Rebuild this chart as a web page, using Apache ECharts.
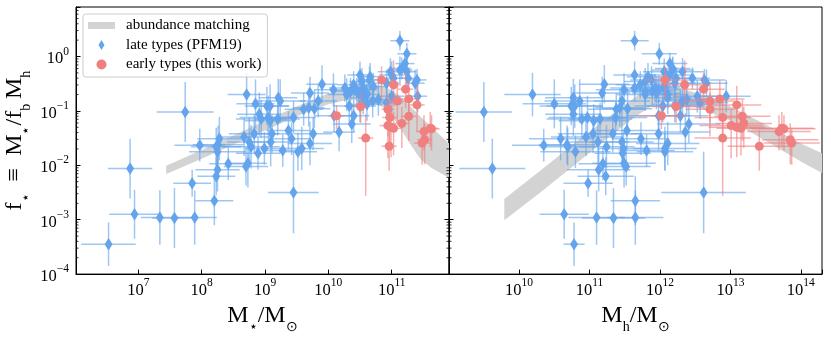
<!DOCTYPE html>
<html>
<head>
<meta charset="utf-8">
<script src="https://cdn.jsdelivr.net/npm/echarts@6/dist/echarts.min.js"></script>
<style>
  html, body { margin: 0; padding: 0; background: #fff; }
  #chart { width: 831px; height: 339px; }
</style>
</head>
<body>
<div id="chart"></div>
<script>
// all values are log10
// late types (PFM19)
var lateLogMstar = [6.53, 6.87, 6.94, 7.34, 7.57, 7.89, 7.85, 7.74, 7.97, 8.20,
  8.23, 8.25, 8.23, 8.25, 8.28, 8.26, 8.42, 8.71, 8.67, 8.75,
  8.78, 8.70, 8.73, 8.89, 8.83, 8.85, 8.91, 8.94, 8.99, 9.03,
  9.08, 9.08, 9.09, 9.11, 9.05, 9.20, 9.21, 9.24, 9.28, 9.37,
  9.42, 9.45, 9.45, 9.52, 9.58, 9.61, 9.69, 9.71, 9.71, 9.76,
  9.78, 9.84, 9.90, 10.08, 10.09, 10.17, 10.26, 10.29, 10.35, 10.33,
  10.37, 10.40, 10.40, 10.45, 10.48, 10.50, 10.50, 10.53, 10.55, 10.55,
  10.61, 10.61, 10.66, 10.71, 10.70, 10.79, 10.92, 10.92, 10.98, 11.00,
  11.00, 11.03, 11.13, 11.16, 11.13, 11.24, 11.21, 11.24, 11.26, 11.40,
  11.37, 11.41, 10.57, 10.65];
var lateLogFstar = [-3.45, -2.06, -2.90, -2.96, -2.97, -2.96, -2.33, -1.02, -1.63, -2.65,
  -2.20, -2.08, -1.66, -1.75, -1.51, -1.62, -1.97, -0.70, -1.48, -1.57,
  -1.66, -2.02, -1.96, -1.78, -1.42, -0.87, -1.06, -1.15, -1.69, -0.91,
  -0.91, -1.18, -1.57, -1.42, -1.12, -1.15, -0.76, -0.82, -1.73, -1.36,
  -1.51, -2.50, -1.12, -1.75, -1.69, -0.97, -0.94, -0.67, -1.60, -1.42,
  -0.96, -0.82, -0.51, -0.61, -1.09, -1.39, -0.58, -0.70, -0.64, -0.91,
  -1.24, -1.09, -0.52, -0.64, -0.67, -0.34, -0.91, -0.46, -0.58, -0.76,
  -0.70, -0.88, -0.37, -0.55, -0.82, -0.79, -0.49, -0.85, -0.28, -0.34,
  -0.73, -0.40, -0.25, -0.22, 0.29, 0.05, -0.13, -0.28, -0.40, -0.43,
  -0.49, -0.73, -0.61, -0.43];
var lateLogMhalo = [10.78, 9.62, 10.64, 11.10, 11.34, 11.65, 10.98, 9.50, 10.35, 11.65,
  11.23, 11.13, 10.69, 10.80, 10.59, 10.68, 11.19, 10.19, 10.95, 11.12,
  11.24, 11.52, 11.49, 11.47, 11.05, 10.50, 10.77, 10.89, 11.48, 10.74,
  10.79, 11.06, 11.46, 11.33, 10.97, 11.15, 10.77, 10.86, 11.81, 11.53,
  11.73, 12.62, 11.37, 12.07, 12.07, 11.38, 11.43, 11.18, 12.11, 11.98,
  11.54, 11.46, 11.21, 11.49, 11.98, 12.36, 11.64, 11.79, 11.79, 12.04,
  12.41, 12.29, 11.72, 11.89, 11.95, 11.64, 12.21, 11.79, 11.93, 12.11,
  12.11, 12.29, 11.83, 12.06, 12.32, 12.38, 12.21, 12.57, 12.06, 12.14,
  12.53, 12.23, 12.18, 12.18, 11.64, 11.99, 12.14, 12.32, 12.46, 12.63,
  12.66, 12.94, 11.98, 11.88];
var lateErrMstar = [0.43, 0.35, 0.40, 0.30, 0.35, 0.35, 0.30, 0.45, 0.40, 0.30,
  0.30, 0.35, 0.40, 0.45, 0.35, 0.40, 0.30, 0.30, 0.40, 0.35,
  0.45, 0.35, 0.30, 0.35, 0.40, 0.30, 0.35, 0.40, 0.30, 0.35,
  0.30, 0.40, 0.35, 0.30, 0.45, 0.35, 0.30, 0.40, 0.30, 0.35,
  0.30, 0.40, 0.35, 0.30, 0.35, 0.30, 0.25, 0.30, 0.35, 0.30,
  0.25, 0.30, 0.25, 0.30, 0.30, 0.25, 0.25, 0.30, 0.25, 0.25,
  0.30, 0.25, 0.25, 0.20, 0.25, 0.20, 0.25, 0.20, 0.25, 0.20,
  0.20, 0.25, 0.20, 0.20, 0.25, 0.20, 0.20, 0.25, 0.20, 0.20,
  0.20, 0.15, 0.20, 0.15, 0.15, 0.15, 0.15, 0.15, 0.15, 0.15,
  0.15, 0.15, 0.20, 0.20];
var lateErrFstar = [0.40, 0.55, 0.45, 0.50, 0.55, 0.50, 0.25, 0.55, 0.30, 0.45,
  0.35, 0.40, 0.35, 0.30, 0.40, 0.35, 0.30, 0.40, 0.35, 0.45,
  0.40, 0.35, 0.45, 0.30, 0.35, 0.45, 0.40, 0.35, 0.30, 0.35,
  0.40, 0.30, 0.45, 0.35, 0.40, 0.30, 0.35, 0.40, 0.30, 0.35,
  0.30, 0.75, 0.30, 0.35, 0.40, 0.30, 0.35, 0.30, 0.40, 0.30,
  0.35, 0.30, 0.35, 0.30, 0.30, 0.35, 0.25, 0.30, 0.25, 0.30,
  0.35, 0.30, 0.25, 0.25, 0.30, 0.25, 0.30, 0.25, 0.25, 0.30,
  0.25, 0.30, 0.25, 0.25, 0.30, 0.30, 0.25, 0.30, 0.25, 0.25,
  0.30, 0.20, 0.25, 0.20, 0.18, 0.20, 0.20, 0.25, 0.20, 0.20,
  0.25, 0.30, 0.25, 0.25];
var lateErrMhalo = [0.15, 0.47, 0.35, 0.40, 0.45, 0.40, 0.35, 0.40, 0.45, 0.35,
  0.40, 0.45, 0.40, 0.50, 0.45, 0.40, 0.35, 0.40, 0.50, 0.45,
  0.40, 0.35, 0.45, 0.40, 0.50, 0.45, 0.40, 0.50, 0.35, 0.45,
  0.40, 0.50, 0.45, 0.40, 0.55, 0.45, 0.40, 0.50, 0.40, 0.45,
  0.40, 0.60, 0.45, 0.40, 0.45, 0.40, 0.35, 0.40, 0.45, 0.40,
  0.35, 0.40, 0.35, 0.40, 0.45, 0.35, 0.35, 0.40, 0.35, 0.40,
  0.45, 0.40, 0.35, 0.30, 0.35, 0.30, 0.40, 0.30, 0.35, 0.35,
  0.30, 0.40, 0.30, 0.30, 0.40, 0.35, 0.30, 0.40, 0.30, 0.30,
  0.35, 0.25, 0.30, 0.25, 0.20, 0.25, 0.25, 0.30, 0.25, 0.30,
  0.30, 0.35, 0.30, 0.30];

// early types (this work)
var earlyLogMstar = [10.13, 10.51, 10.59, 10.84, 10.94, 10.97, 10.94, 11.03, 10.99, 11.03, 10.96,
  11.09, 11.16, 11.22, 11.27, 11.27, 11.40, 11.51, 11.48, 11.52, 11.61, 11.63];
var earlyLogFstar = [-1.09, -0.92, -1.50, -0.43, -0.97, -1.12, -1.27, -0.52, -1.30, -1.32, -1.65,
  -0.82, -1.23, -0.60, -0.78, -1.10, -0.89, -1.38, -1.59, -1.53, -1.32, -1.33];
var earlyLogMhalo = [12.02, 12.23, 12.89, 12.07, 12.71, 12.89, 13.01, 12.35, 13.09, 13.15, 13.41,
  12.71, 13.19, 12.62, 12.85, 13.17, 13.09, 13.69, 13.87, 13.85, 13.73, 13.76];
var earlyErrMstar = [0.13, 0.12, 0.12, 0.12, 0.10, 0.12, 0.13, 0.12, 0.10, 0.12, 0.12,
  0.13, 0.12, 0.12, 0.13, 0.12, 0.12, 0.12, 0.13, 0.12, 0.12, 0.13];
var earlyErrFlo = [0.25, 0.30, 1.06, 0.35, 0.50, 0.45, 0.60, 0.40, 0.55, 0.50, 0.45,
  0.40, 0.45, 0.35, 0.40, 0.45, 0.50, 0.35, 0.40, 0.45, 0.35, 0.40];
var earlyErrFhi = [0.20, 0.25, 0.44, 0.25, 0.30, 0.35, 0.30, 0.45, 0.35, 0.30, 0.30,
  0.35, 0.30, 0.30, 0.35, 0.30, 0.35, 0.30, 0.25, 0.30, 0.30, 0.25];
var earlyErrMhalo = [0.35, 0.35, 0.40, 0.30, 0.35, 0.40, 0.45, 0.35, 0.40, 0.35, 0.45,
  0.35, 0.40, 0.30, 0.35, 0.40, 0.35, 0.45, 0.40, 0.40, 0.45, 0.45];

// abundance matching band (lower / upper edge)
var bandStarLogM = [7.44, 8.0, 8.5, 9.0, 9.5, 10.0, 10.3, 10.6, 10.9, 11.1, 11.3, 11.45, 11.63, 11.905];
var bandStarLo = [-2.16, -1.88, -1.62, -1.36, -1.10, -0.88, -0.80, -0.80, -0.95, -1.25, -1.62, -1.88, -2.05, -2.23];
var bandStarHi = [-2.01, -1.72, -1.45, -1.18, -0.92, -0.68, -0.57, -0.52, -0.55, -0.70, -0.92, -1.10, -1.30, -1.60];
var bandHaloLogM = [9.79, 10.3, 10.8, 11.3, 11.7, 11.95, 12.2, 12.6, 13.0, 13.5, 14.0, 14.3];
var bandHaloLo = [-3.01, -2.50, -1.98, -1.45, -1.06, -0.86, -0.82, -0.97, -1.18, -1.55, -1.93, -2.14];
var bandHaloHi = [-2.62, -2.10, -1.58, -1.08, -0.70, -0.55, -0.56, -0.70, -0.92, -1.25, -1.60, -1.78];

var yTickDecades = [-4, -3, -2, -1, 0];

var BLUE = '#64A4EC';
var RED = '#F08080';
var BAND = '#D3D3D3';
var FONT = 'Liberation Serif';

function p(v) { return Math.pow(10, v); }

function powLabel(v) {
  var e = Math.log10(v);
  var r = Math.round(e);
  if (Math.abs(e - r) > 1e-6) return '';
  return '{b|10}{s|' + (r < 0 ? '\u2212' + (-r) : r) + '}';
}

var labelRich = {
  b: { fontSize: 16.5, lineHeight: 22, verticalAlign: 'bottom', fontFamily: FONT, color: '#000' },
  s: { fontSize: 11.5, lineHeight: 14, verticalAlign: 'top', fontFamily: FONT, color: '#000' }
};
var nameRich = {
  m: { fontSize: 24, lineHeight: 30, verticalAlign: 'top', fontFamily: FONT, color: '#000' },
  s: { fontSize: 14, lineHeight: 14, verticalAlign: 'bottom', fontFamily: FONT, color: '#000' }
};

// error bar rows: [x, y, xlo, xhi, ylo, yhi]
function errRows(xs, ys, ex, eyLo, eyHi) {
  return xs.map(function (x, i) {
    return [p(x), p(ys[i]), p(x - ex[i]), p(x + ex[i]), p(ys[i] - eyLo[i]), p(ys[i] + eyHi[i])];
  });
}
function ptRows(xs, ys) {
  return xs.map(function (x, i) { return [p(x), p(ys[i])]; });
}
function errRender(color, width) {
  return function (params, api) {
    var x = api.value(0), y = api.value(1);
    var a = api.coord([api.value(2), y]), b = api.coord([api.value(3), y]);
    var c = api.coord([x, api.value(4)]), d = api.coord([x, api.value(5)]);
    var st = { stroke: color, lineWidth: width };
    return {
      type: 'group',
      children: [
        { type: 'line', shape: { x1: a[0], y1: a[1], x2: b[0], y2: b[1] }, style: st },
        { type: 'line', shape: { x1: c[0], y1: c[1], x2: d[0], y2: d[1] }, style: st }
      ]
    };
  };
}
function bandRender(xs, lo, hi) {
  return function (params, api) {
    if (params.dataIndex !== 0) return;
    var pts = [];
    for (var i = 0; i < xs.length; i++) pts.push(api.coord([p(xs[i]), p(hi[i])]));
    for (var j = xs.length - 1; j >= 0; j--) pts.push(api.coord([p(xs[j]), p(lo[j])]));
    return { type: 'polygon', shape: { points: pts }, style: { fill: BAND } };
  };
}
// matplotlib style log minor ticks (2..9 per decade)
var minorVals = [];
yTickDecades.forEach(function (d) {
  for (var k = 2; k <= 9; k++) if (k * p(d) < p(0.91)) minorVals.push(k * p(d));
});
function minorRender(xRef, bothSides) {
  return function (params, api) {
    var y = api.coord([xRef, api.value(1)])[1];
    var cs = params.coordSys;
    var st = { stroke: '#000', lineWidth: 0.8 };
    var kids = [{ type: 'line', shape: { x1: cs.x, y1: y, x2: cs.x + 2.5, y2: y }, style: st }];
    if (bothSides) kids.push({ type: 'line', shape: { x1: cs.x + cs.width - 2.5, y1: y, x2: cs.x + cs.width, y2: y }, style: st });
    return { type: 'group', children: kids };
  };
}

function xAxisOf(grid, min, max, name) {
  return {
    type: 'log', logBase: 10, gridIndex: grid, min: min, max: max,
    axisLine: { lineStyle: { color: '#000', width: 1 } },
    axisTick: { inside: true, length: 4.5, lineStyle: { color: '#000' } },
    splitLine: { show: false },
    axisLabel: { formatter: powLabel, rich: labelRich, margin: 3 },
    name: name, nameLocation: 'middle', nameGap: 19,
    nameTextStyle: { rich: nameRich }
  };
}
function yAxisOf(grid, pos, showLabel, name) {
  return {
    type: 'log', logBase: 10, gridIndex: grid, position: pos, min: 1e-4, max: p(0.91),
    axisLine: { show: true, lineStyle: { color: '#000', width: 1 } },
    axisTick: { inside: true, length: 4.5, lineStyle: { color: '#000' } },
    splitLine: { show: false },
    axisLabel: { show: showLabel, formatter: powLabel, rich: labelRich, margin: 7 },
    name: name || '', nameLocation: 'middle', nameRotate: 90, nameGap: 43,
    nameTextStyle: { rich: nameRich }
  };
}

var chart = echarts.init(document.getElementById('chart'), null, { renderer: 'canvas' });

var option = {
  animation: false,
  backgroundColor: '#fff',
  grid: [
    { left: 76, top: 7, width: 373, height: 273, show: true, borderColor: '#000', borderWidth: 1 },
    { left: 449, top: 7, width: 373, height: 273, show: true, borderColor: '#000', borderWidth: 1 }
  ],
  legend: {
    left: 83, top: 14, orient: 'vertical',
    padding: [4, 6, 5, 5], itemGap: 4.5, itemWidth: 27, itemHeight: 10,
    backgroundColor: 'rgba(255,255,255,0.8)', borderColor: '#cccccc', borderWidth: 1, borderRadius: 3,
    textStyle: { fontFamily: FONT, fontSize: 15, color: '#000', lineHeight: 15, padding: [0, 0, 0, 6] },
    data: [
      { name: 'abundance matching', icon: 'path://M0,0H27V7H0Z' },
      { name: 'late types (PFM19)', icon: 'path://M0,-10L6,0L0,10L-6,0Z' },
      { name: 'early types (this work)', icon: 'circle' }
    ]
  },
  xAxis: [
    xAxisOf(0, p(6.016), p(11.905), '{m|M}{s|\u22C6}{m|/M}{s|\u2299}'),
    xAxisOf(1, p(9.005), p(14.3), '{m|M}{s|h}{m|/M}{s|\u2299}')
  ],
  yAxis: [
    yAxisOf(0, 'left', true, '{m|f}{s|\u22C6}{m|\u2002\u2261\u2002M}{s|\u22C6}{m|/f}{s|b}{m|\u2009M}{s|h}'),
    yAxisOf(0, 'right', false),
    yAxisOf(1, 'left', false)
  ],
  series: [
    {
      type: 'custom', name: 'abundance matching', xAxisIndex: 0, yAxisIndex: 0, z: 1, clip: true,
      itemStyle: { color: BAND },
      renderItem: bandRender(bandStarLogM, bandStarLo, bandStarHi),
      data: ptRows(bandStarLogM, bandStarHi)
    },
    {
      type: 'custom', name: 'abundance matching', xAxisIndex: 1, yAxisIndex: 2, z: 1, clip: true,
      itemStyle: { color: BAND },
      renderItem: bandRender(bandHaloLogM, bandHaloLo, bandHaloHi),
      data: ptRows(bandHaloLogM, bandHaloHi)
    },
    {
      type: 'custom', xAxisIndex: 0, yAxisIndex: 0, silent: true, z: 9,
      renderItem: minorRender(1e9, true),
      data: minorVals.map(function (v) { return [1e9, v]; })
    },
    {
      type: 'custom', xAxisIndex: 1, yAxisIndex: 2, silent: true, z: 9,
      renderItem: minorRender(1e12, false),
      data: minorVals.map(function (v) { return [1e12, v]; })
    },
    // left panel
    {
      type: 'custom', xAxisIndex: 0, yAxisIndex: 0, z: 2, clip: true, silent: true,
      renderItem: errRender('rgba(100,164,236,0.62)', 1.5),
      data: errRows(lateLogMstar, lateLogFstar, lateErrMstar, lateErrFstar, lateErrFstar)
    },
    {
      type: 'scatter', name: 'late types (PFM19)', xAxisIndex: 0, yAxisIndex: 0, z: 3,
      symbol: 'diamond', symbolSize: [8, 12.5], itemStyle: { color: BLUE, opacity: 1 },
      data: ptRows(lateLogMstar, lateLogFstar)
    },
    {
      type: 'custom', xAxisIndex: 0, yAxisIndex: 0, z: 4, clip: true, silent: true,
      renderItem: errRender('rgba(240,128,128,0.62)', 1.5),
      data: errRows(earlyLogMstar, earlyLogFstar, earlyErrMstar, earlyErrFlo, earlyErrFhi)
    },
    {
      type: 'scatter', name: 'early types (this work)', xAxisIndex: 0, yAxisIndex: 0, z: 5,
      symbol: 'circle', symbolSize: 9, itemStyle: { color: RED, opacity: 1 },
      data: ptRows(earlyLogMstar, earlyLogFstar)
    },
    // right panel
    {
      type: 'custom', xAxisIndex: 1, yAxisIndex: 2, z: 2, clip: true, silent: true,
      renderItem: errRender('rgba(100,164,236,0.62)', 1.5),
      data: errRows(lateLogMhalo, lateLogFstar, lateErrMhalo, lateErrFstar, lateErrFstar)
    },
    {
      type: 'scatter', name: 'late types (PFM19)', xAxisIndex: 1, yAxisIndex: 2, z: 3,
      symbol: 'diamond', symbolSize: [8, 12.5], itemStyle: { color: BLUE, opacity: 1 },
      data: ptRows(lateLogMhalo, lateLogFstar)
    },
    {
      type: 'custom', xAxisIndex: 1, yAxisIndex: 2, z: 4, clip: true, silent: true,
      renderItem: errRender('rgba(240,128,128,0.62)', 1.5),
      data: errRows(earlyLogMhalo, earlyLogFstar, earlyErrMhalo, earlyErrFlo, earlyErrFhi)
    },
    {
      type: 'scatter', name: 'early types (this work)', xAxisIndex: 1, yAxisIndex: 2, z: 5,
      symbol: 'circle', symbolSize: 9, itemStyle: { color: RED, opacity: 1 },
      data: ptRows(earlyLogMhalo, earlyLogFstar)
    }
  ]
};

chart.setOption(option);
</script>
</body>
</html>
